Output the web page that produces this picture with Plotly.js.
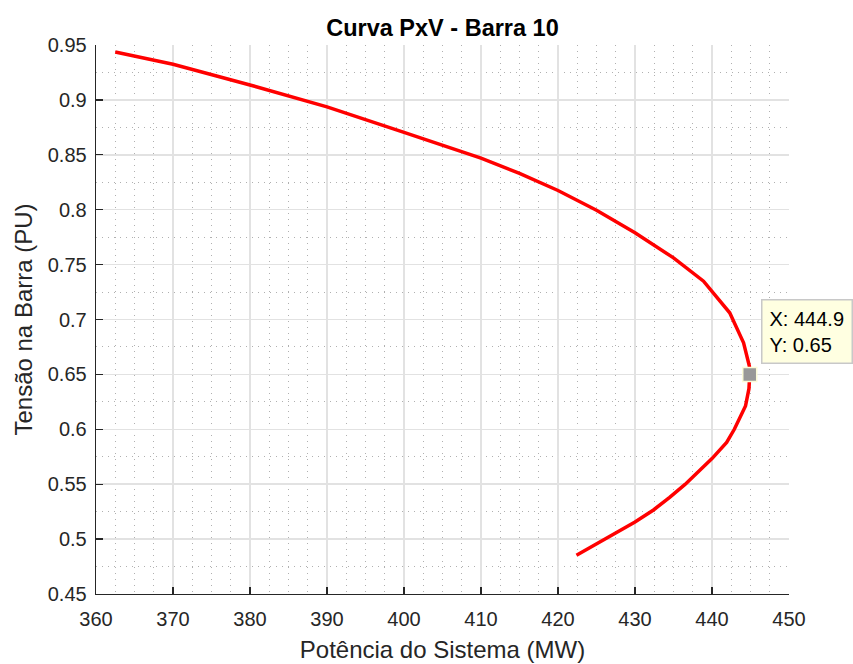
<!DOCTYPE html>
<html>
<head>
<meta charset="utf-8">
<script src="https://cdn.plot.ly/plotly-3.0.1.min.js"></script>
<style>
  html, body { margin: 0; padding: 0; background: #ffffff; }
  #chart { width: 853px; height: 664px; }
</style>
</head>
<body>
<div id="chart"></div>
<script>
// Potência do Sistema (MW) along the PV curve (upper branch, nose, lower branch)
const potencia = [362.5, 370, 380, 390, 400, 405, 410, 415, 420, 425, 430, 435, 438.9, 442.3, 444.1, 444.85, 444.9,
                  444.8, 444.35, 442.9, 441.9, 440, 436.5, 434.5, 432.4, 430, 426.0, 422.4];
// Tensão na Barra (PU)
const tensao = [0.9436, 0.9325, 0.9136, 0.8937, 0.8705, 0.859, 0.847, 0.833, 0.8175, 0.7995, 0.779, 0.7561, 0.7349, 0.7061, 0.6788, 0.6576, 0.65,
                0.637, 0.6212, 0.6, 0.588, 0.5733, 0.5498, 0.538, 0.5265, 0.5155, 0.4998, 0.4852];
// Data tip
const tipX = [444.9];
const tipY = [0.65];
const tipText = 'X: 444.9<br>Y: 0.65';

const axisColor = '#262626';
const font = 'Liberation Sans, Arial, Helvetica, sans-serif';

const traces = [
  {
    x: potencia, y: tensao, type: 'scatter', mode: 'lines',
    line: { color: '#ff0000', width: 3.5 },
    hoverinfo: 'skip', showlegend: false
  },
  {
    x: tipX, y: tipY, type: 'scatter', mode: 'markers',
    marker: { symbol: 'square', size: 14, color: '#999999', line: { color: '#fbfbd8', width: 1.5 } },
    hoverinfo: 'skip', showlegend: false, cliponaxis: false
  }
];

const layout = {
  width: 853, height: 664,
  margin: { l: 96, r: 64, t: 45, b: 70 },
  paper_bgcolor: '#ffffff', plot_bgcolor: '#ffffff',
  font: { family: font, color: axisColor, size: 20 },
  showlegend: false,
  title: {
    text: '<b>Curva PxV - Barra 10</b>',
    font: { family: font, size: 23.5, color: '#000000' },
    x: 0.5, xref: 'paper', xanchor: 'center',
    y: 1, yref: 'paper', yanchor: 'bottom', pad: { b: 9 }
  },
  xaxis: {
    range: [360, 450], dtick: 10, tick0: 360,
    showline: true, linecolor: axisColor, linewidth: 1.3, mirror: false,
    ticks: 'inside', ticklen: 7, tickcolor: axisColor, tickwidth: 1.3,
    showgrid: true, gridcolor: '#e2e2e2', gridwidth: 1.5,
    minor: { dtick: 2.5, showgrid: true, gridcolor: '#b0b0b0', griddash: '1px,5px', gridwidth: 1 },
    zeroline: false, ticklabelstandoff: 7,
    tickfont: { family: font, size: 20, color: axisColor },
    title: { text: 'Potência do Sistema (MW)', font: { family: font, size: 24, color: axisColor }, standoff: 12 }
  },
  yaxis: {
    range: [0.45, 0.95], dtick: 0.05, tick0: 0.45,
    showline: true, linecolor: axisColor, linewidth: 1.3, mirror: false,
    ticks: 'inside', ticklen: 7, tickcolor: axisColor, tickwidth: 1.3,
    showgrid: true, gridcolor: '#e2e2e2', gridwidth: 1.5,
    minor: { dtick: 0.025, showgrid: true, gridcolor: '#b0b0b0', griddash: '1px,5px', gridwidth: 1 },
    zeroline: false, ticklabelstandoff: 4,
    tickfont: { family: font, size: 20, color: axisColor },
    title: { text: 'Tensão na Barra (PU)', font: { family: font, size: 24, color: axisColor }, standoff: 8 }
  },
  annotations: [{
    x: tipX[0], y: tipY[0], xref: 'x', yref: 'y',
    text: tipText, showarrow: false, align: 'left',
    xanchor: 'left', yanchor: 'bottom', xshift: 11, yshift: 10,
    bgcolor: '#ffffe1', bordercolor: '#c8c8c8', borderwidth: 1.5, borderpad: 7,
    font: { family: font, size: 20, color: '#000000' }
  }]
};

Plotly.newPlot('chart', traces, layout, { staticPlot: true, displayModeBar: false });
</script>
</body>
</html>
